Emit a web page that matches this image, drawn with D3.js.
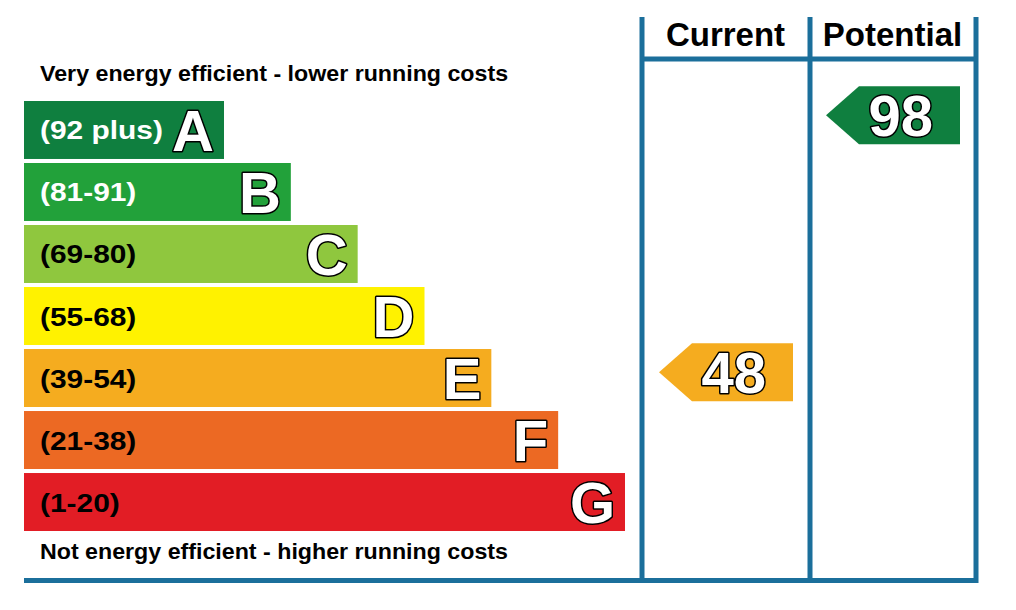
<!DOCTYPE html>
<html>
<head>
<meta charset="utf-8">
<script src="https://cdn.jsdelivr.net/npm/d3@7"></script>
<style>
  body { margin: 0; background: #fff; }
  text { font-family: "Liberation Sans", Arial, sans-serif; font-weight: bold; }
</style>
</head>
<body>
<div id="chart"></div>
<script>
// Data
const bands = ["A", "B", "C", "D", "E", "F", "G"];
const ranges = ["(92 plus)", "(81-91)", "(69-80)", "(55-68)", "(39-54)", "(21-38)", "(1-20)"];
const bandColors = ["#0f7f3f", "#22a13a", "#8fc73e", "#fff200", "#f5ac1f", "#ec6923", "#e21d25"];
const labelColors = ["#fff", "#fff", "#000", "#000", "#000", "#000", "#000"];
const columns = ["Current", "Potential"];
const scores = [48, 98];
const scoreBands = ["E", "A"];
const topNote = "Very energy efficient - lower running costs";
const bottomNote = "Not energy efficient - higher running costs";

const width = 1016, height = 610;
const lineColor = "#1b6f9b";

const svg = d3.select("#chart")
    .append("svg")
    .attr("width", width)
    .attr("height", height);

// Scales
const yBand = d3.scaleBand()
    .domain(bands)
    .range([101, 531])
    .paddingInner(0.065)
    .paddingOuter(0);

const barEnd = d3.scaleLinear()
    .domain([0, bands.length - 1])
    .range([224, 625]);

const xCol = d3.scaleBand()
    .domain(columns)
    .range([642, 976]);

// score -> vertical position of the arrow centre
const scoreY = d3.scaleLinear()
    .domain([0, 100])
    .range([619, 105]);

const barLeft = 24;

// Bars
bands.forEach((b, i) => {
    svg.append("rect")
        .attr("x", barLeft)
        .attr("y", yBand(b))
        .attr("width", barEnd(i) - barLeft)
        .attr("height", yBand.bandwidth())
        .attr("fill", bandColors[i]);

    // range labels are drawn a bit wider than the font's natural width
    svg.append("text")
        .attr("transform", `translate(40, ${yBand(b) + yBand.bandwidth() / 2 + 9.5}) scale(1.15, 1)`)
        .attr("font-size", 26)
        .attr("fill", labelColors[i])
        .text(ranges[i]);

    svg.append("text")
        .attr("x", barEnd(i) - 10)
        .attr("y", yBand(b) + yBand.bandwidth() / 2 + 21)
        .attr("text-anchor", "end")
        .attr("font-size", 58)
        .attr("fill", "#fff")
        .attr("stroke", "#000")
        .attr("stroke-width", 3)
        .attr("paint-order", "stroke")
        .attr("stroke-linejoin", "round")
        .text(b);
});

// Notes
svg.append("text")
    .attr("transform", "translate(40, 81) scale(1.08, 1)")
    .attr("font-size", 21.5)
    .attr("fill", "#000")
    .text(topNote);

svg.append("text")
    .attr("transform", "translate(40, 559) scale(1.08, 1)")
    .attr("font-size", 21.5)
    .attr("fill", "#000")
    .text(bottomNote);

// Grid lines
const lw = 5;
[642, 810, 976].forEach(x => {
    svg.append("line")
        .attr("x1", x).attr("x2", x)
        .attr("y1", 17).attr("y2", 583)
        .attr("stroke", lineColor)
        .attr("stroke-width", lw);
});
svg.append("line")
    .attr("x1", 640).attr("x2", 978)
    .attr("y1", 59).attr("y2", 59)
    .attr("stroke", lineColor)
    .attr("stroke-width", lw);
svg.append("line")
    .attr("x1", 24).attr("x2", 978)
    .attr("y1", 580.5).attr("y2", 580.5)
    .attr("stroke", lineColor)
    .attr("stroke-width", lw);

// Column headers
columns.forEach(c => {
    svg.append("text")
        .attr("x", xCol(c) + xCol.bandwidth() / 2)
        .attr("y", 46)
        .attr("text-anchor", "middle")
        .attr("font-size", 33)
        .attr("fill", "#000")
        .text(c);
});

// Arrows
const arrowH = 58, tip = 33, arrowW = 134;
columns.forEach((c, i) => {
    const s = scores[i];
    const color = bandColors[bands.indexOf(scoreBands[i])];
    const x0 = xCol(c) + 17;
    const x1 = x0 + arrowW;
    const cy = scoreY(s);
    svg.append("polygon")
        .attr("points", [
            [x0, cy],
            [x0 + tip, cy - arrowH / 2],
            [x1, cy - arrowH / 2],
            [x1, cy + arrowH / 2],
            [x0 + tip, cy + arrowH / 2]
        ].map(p => p.join(",")).join(" "))
        .attr("fill", color);

    svg.append("text")
        .attr("x", x1 - 27)
        .attr("y", cy + 21)
        .attr("text-anchor", "end")
        .attr("font-size", 58)
        .attr("fill", "#fff")
        .attr("stroke", "#000")
        .attr("stroke-width", 3)
        .attr("paint-order", "stroke")
        .attr("stroke-linejoin", "round")
        .text(s);
});
</script>
</body>
</html>
